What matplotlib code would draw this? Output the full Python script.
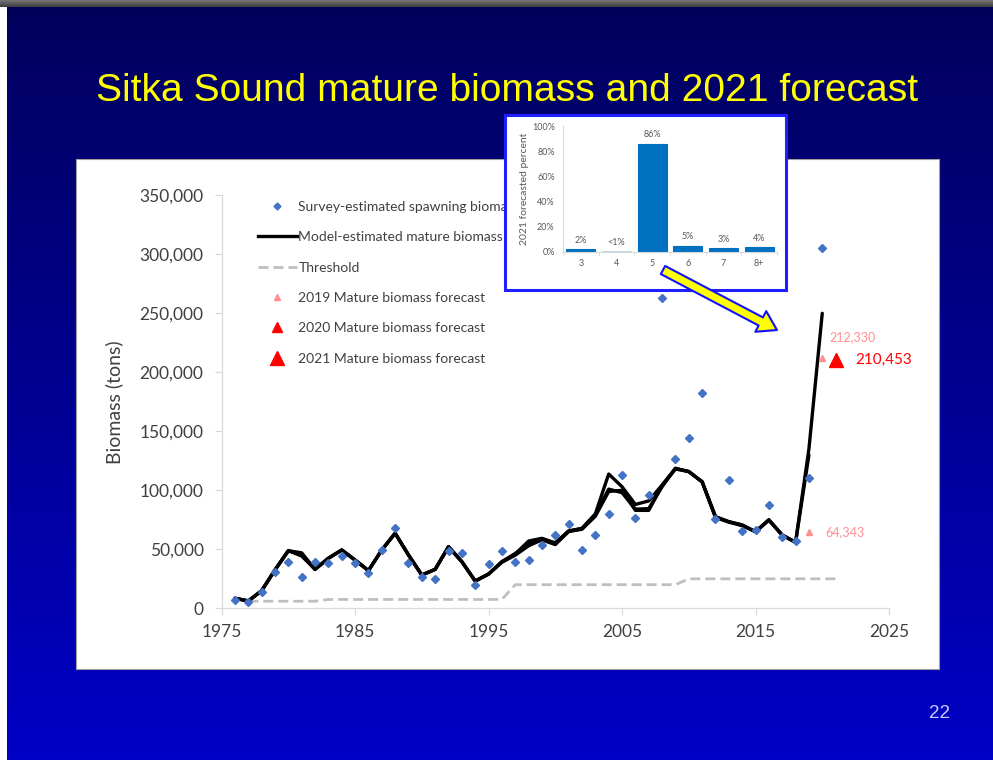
import numpy as np
import matplotlib
matplotlib.use('Agg')
import matplotlib.pyplot as plt
from matplotlib.patches import Rectangle, FancyArrowPatch
from matplotlib.lines import Line2D
from matplotlib.ticker import FuncFormatter, FixedLocator

# ---------------- data ----------------
survey_years = list(range(1976, 2021))
survey_biomass = [7000, 5000, 14000, 30500, 39500, 26300, 39500, 38700, 44300, 38100,
                  30200, 49400, 67800, 38700, 26300, 24800, 48500, 47100, 19700, 37800,
                  48500, 39500, 40900, 53600, 62100, 71100, 49400, 62100, 80200, 113000,
                  76300, 96000, 263000, 126300, 144000, 182200, 75400, 109000, 65500, 66400,
                  87500, 60700, 57300, 110200, 305600]

model_2019_years = list(range(1976, 2019))
model_2019 = [8500, 6200, 14900, 32500, 48800, 47000, 33000, 42400, 49400, 40900,
              31900, 49400, 63600, 45200, 28200, 33000, 52200, 39500, 23100, 29000,
              39500, 46000, 57000, 59300, 55000, 65500, 67800, 80000, 113800, 103000,
              88000, 91000, 104500, 118600, 115800, 107300, 77600, 73400, 70600, 64900,
              74800, 62100, 55900]

model_2020_years = list(range(1976, 2020))
model_2020 = [8500, 6200, 14900, 32500, 48800, 44300, 33000, 42400, 49400, 40900,
              31900, 49400, 63600, 45200, 28200, 33000, 52200, 39500, 23100, 29000,
              39000, 45000, 53000, 58000, 54000, 65000, 67000, 78000, 99000, 100000,
              83000, 83000, 104000, 118000, 116000, 107000, 77000, 73000, 70000, 65000,
              75000, 62000, 56000, 129900]

model_2021_years = list(range(1976, 2021))
model_2021 = [8500, 6200, 14900, 32500, 48800, 45500, 33000, 42400, 49400, 40900,
              31900, 49400, 63600, 45200, 28200, 33000, 52200, 39500, 23100, 29000,
              39500, 46500, 55000, 59000, 55500, 65500, 67500, 79500, 101000, 98000,
              84000, 84500, 103000, 118600, 115800, 107300, 77600, 73400, 70600, 64900,
              74800, 62100, 55900, 135000, 250000]

threshold_years = list(range(1977, 2022))
threshold = [6000] * 6 + [7500] * 14 + [20000] * 13 + [25000] * 12

forecast_years = [2019, 2020, 2021]
forecast_values = [64343, 212330, 210453]

legend_labels = ['Survey-estimated spawning biomass', 'Model-estimated mature biomass',
                 'Threshold', '2019 Mature biomass forecast',
                 '2020 Mature biomass forecast', '2021 Mature biomass forecast']

age_classes = ['3', '4', '5', '6', '7', '8+']
age_percent = [2, 0.5, 86, 5, 3, 4]
age_labels = ['2%', '<1%', '86%', '5%', '3%', '4%']

x_ticks = [1975, 1985, 1995, 2005, 2015, 2025]
y_ticks = [0, 50000, 100000, 150000, 200000, 250000, 300000, 350000]

title = 'Sitka Sound mature biomass and 2021 forecast'
page_number = '22'

# ---------------- layout helpers ----------------
W, H = 993, 760
def fx(p): return p / W
def fy(p): return 1 - p / H

FONT = ['Lato', 'DejaVu Sans']
TXT = '#404040'
PINK = '#ff8f8f'
BLUE_PT = '#4472c4'

fig = plt.figure(figsize=(W / 100, H / 100), dpi=100)

# background gradient slide
bg = np.zeros((H, W, 3))
t = np.clip((np.arange(H) - 7) / (H - 7), 0, 1)
bg[:, :, 2] = (0.36 + 0.42 * t)[:, None]
bg[:7, :, :] = np.linspace(0.45, 0.25, 7)[:, None, None]
bg[7:, :7, :] = 1.0
ax_bg = fig.add_axes([0, 0, 1, 1], zorder=0)
ax_bg.imshow(bg, aspect='auto', extent=[0, 1, 0, 1], interpolation='nearest')
ax_bg.axis('off')

# white panel
fig.add_artist(Rectangle((fx(76), fy(669)), (939 - 76) / W, (669 - 159) / H,
                         transform=fig.transFigure, facecolor='white',
                         edgecolor='#a0a0a0', lw=0.8, zorder=1))

# title
ttl = fig.text(fx(507), fy(91), title, ha='center', va='center', fontsize=27,
               color='#ffff00', family=['Liberation Sans', 'DejaVu Sans'], zorder=3)
r = fig.canvas.get_renderer()
wpx = ttl.get_window_extent(r).width
ttl.set_fontsize(27 * 821 / wpx)

fig.text(fx(939), fy(713), page_number, ha='center', va='center', fontsize=13.5,
         color='#ccccff', family=['Liberation Sans', 'DejaVu Sans'], zorder=3)

# ---------------- main axes ----------------
ax = fig.add_axes([fx(221.6), fy(608.3), (889 - 221.6) / W, (608.3 - 195.3) / H], zorder=2)
ax.patch.set_alpha(0)

ax.plot(threshold_years, threshold, color='#bfbfbf', lw=2, dashes=(3.6, 1.8), zorder=2)
for yrs, vals in [(model_2019_years, model_2019), (model_2020_years, model_2020),
                  (model_2021_years, model_2021)]:
    ax.plot(yrs, vals, color='black', lw=2.4, solid_joinstyle='round',
            solid_capstyle='round', zorder=3)
ax.plot(survey_years, survey_biomass, ls='none', marker='D', ms=4.3, color=BLUE_PT,
        zorder=4)

f_colors = [PINK, PINK, '#ff0000']
f_sizes = [5, 5, 10]
for yr, v, c, s in zip(forecast_years, forecast_values, f_colors, f_sizes):
    ax.plot(yr, v, ls='none', marker='^', ms=s, color=c, zorder=5)

f_offsets = [(12, 0), (5, 15), (14, 0)]
f_fs = [9, 9, 11]
for yr, v, c, off, fs in zip(forecast_years, forecast_values, f_colors, f_offsets, f_fs):
    ax.annotate(f'{v:,}', (yr, v), xytext=off, textcoords='offset points',
                ha='left', va='center', fontsize=fs, color=c, family=FONT, zorder=6)

ax.set_xlim(1975, 2025)
ax.set_ylim(0, 350000)
ax.xaxis.set_major_locator(FixedLocator(x_ticks))
ax.yaxis.set_major_locator(FixedLocator(y_ticks))
ax.yaxis.set_major_formatter(FuncFormatter(lambda v, p: f'{v:,.0f}'))
for s in ['top', 'right']:
    ax.spines[s].set_visible(False)
for s in ['left', 'bottom']:
    ax.spines[s].set_color('#d9d9d9')
    ax.spines[s].set_linewidth(0.9)
ax.tick_params(axis='both', length=5, width=0.9, color='#d9d9d9', labelcolor=TXT,
               labelsize=12.5)
ax.tick_params(axis='x', pad=6)
ax.tick_params(axis='y', pad=8)
for lab in ax.get_xticklabels() + ax.get_yticklabels():
    lab.set_family(FONT)
ax.set_ylabel('Biomass (tons)', fontsize=14, color=TXT, family=FONT, labelpad=12)

handles = [
    Line2D([], [], ls='none', marker='D', ms=3.5, color=BLUE_PT),
    Line2D([], [], color='black', lw=2.4),
    Line2D([], [], color='#bfbfbf', lw=2, dashes=(3.6, 1.8)),
    Line2D([], [], ls='none', marker='^', ms=5, color=PINK),
    Line2D([], [], ls='none', marker='^', ms=7.5, color='#ff0000'),
    Line2D([], [], ls='none', marker='^', ms=10, color='#ff0000'),
]
leg = ax.legend(handles, legend_labels, loc='upper left',
                bbox_to_anchor=(fx(258), fy(201)), bbox_transform=fig.transFigure,
                frameon=False, handlelength=2.8, handletextpad=0.1, labelspacing=1.32,
                borderpad=0, borderaxespad=0, prop={'family': FONT, 'size': 10})
for tx in leg.get_texts():
    tx.set_color(TXT)

# ---------------- inset ----------------
ax_box = fig.add_axes([fx(505), fy(290), 281 / W, 175 / H], zorder=5)
ax_box.set_xticks([])
ax_box.set_yticks([])
for s in ax_box.spines.values():
    s.set_color('#1f1fff')
    s.set_linewidth(2.2)

ax_in = fig.add_axes([fx(563), fy(252), 214 / W, 126 / H], zorder=6)
ax_in.patch.set_alpha(0)
xpos = np.arange(len(age_classes))
bar_colors = ['#0070c0', '#bdd7ee', '#0070c0', '#0070c0', '#0070c0', '#0070c0']
ax_in.bar(xpos, age_percent, width=0.82, color=bar_colors, edgecolor=bar_colors, lw=0.8)
for x, v, lab in zip(xpos, age_percent, age_labels):
    ax_in.text(x, v + 7, lab, ha='center', va='center', fontsize=6.5, color='#595959',
               family=FONT)
ax_in.set_xlim(-0.5, len(age_classes) - 0.5)
ax_in.set_ylim(0, 100)
ax_in.set_xticks(xpos)
ax_in.set_xticklabels(age_classes)
ax_in.set_xticks(np.arange(-0.5, len(age_classes)), minor=True)
ax_in.set_yticks([0, 20, 40, 60, 80, 100])
ax_in.yaxis.set_major_formatter(FuncFormatter(lambda v, p: f'{v:.0f}%'))
ax_in.tick_params(axis='both', which='major', length=0, labelsize=6.5, labelcolor='#595959')
ax_in.tick_params(axis='x', which='major', pad=5)
ax_in.tick_params(axis='y', which='major', pad=6)
ax_in.tick_params(axis='x', which='minor', length=3, color='#d9d9d9')
for lab in ax_in.get_xticklabels() + ax_in.get_yticklabels():
    lab.set_family(FONT)
for s in ['top', 'right']:
    ax_in.spines[s].set_visible(False)
for s in ['left', 'bottom']:
    ax_in.spines[s].set_color('#d9d9d9')
ax_in.set_ylabel('2021 forecasted percent', fontsize=7.5, color='#595959', family=FONT,
                 labelpad=2)

# arrow
arrow = FancyArrowPatch((fx(663), fy(270)), (fx(777), fy(330)), transform=fig.transFigure,
                        arrowstyle='simple,head_length=1.1,head_width=1.4,tail_width=0.55',
                        mutation_scale=12, fc='#ffff00', ec='#1010ff', lw=1.5,
                        shrinkA=0, shrinkB=0, zorder=10)
fig.add_artist(arrow)

fig.savefig('out.png', dpi=100)
